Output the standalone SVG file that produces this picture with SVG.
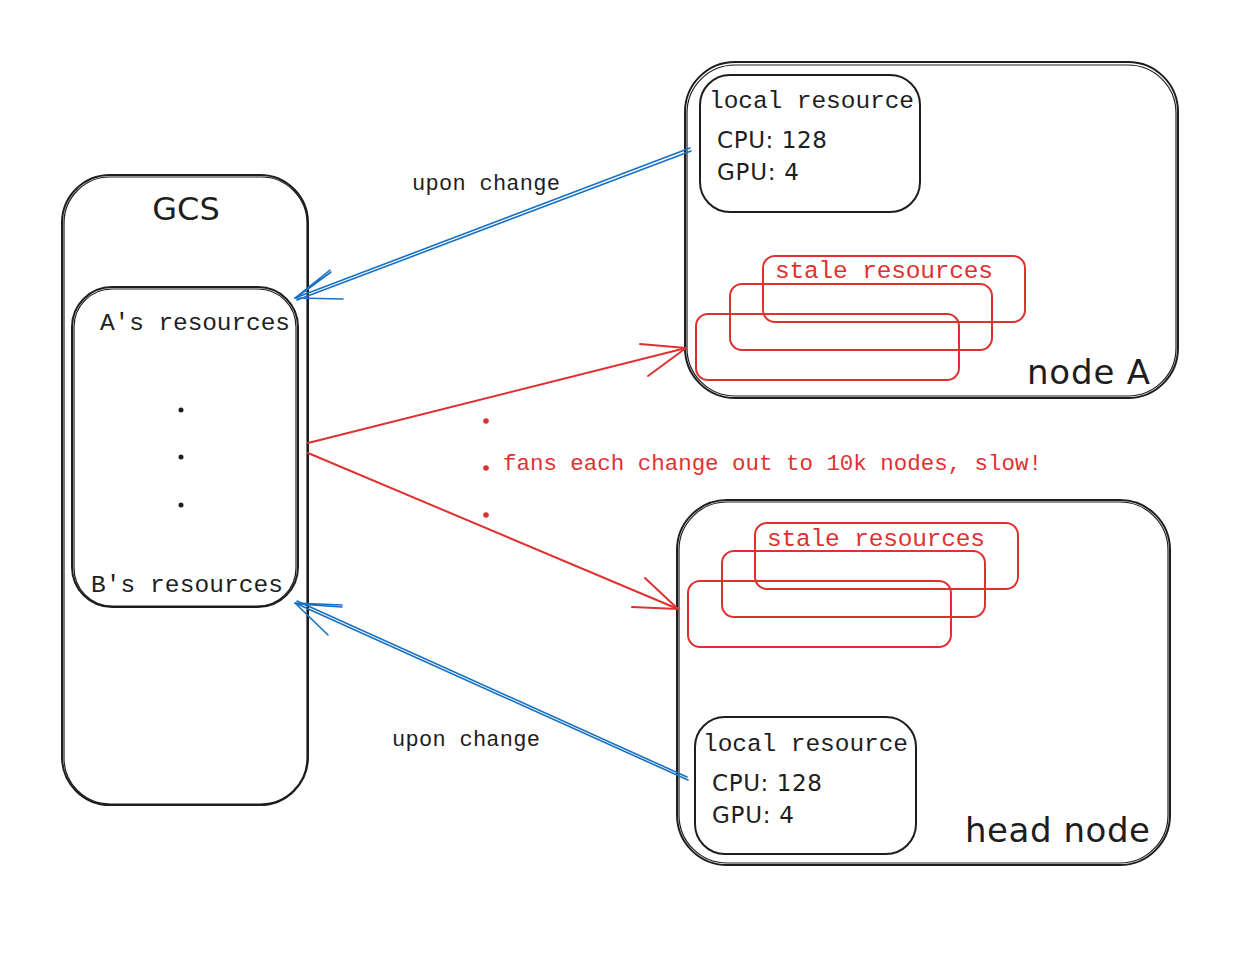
<svg xmlns="http://www.w3.org/2000/svg" width="1252" height="958" viewBox="0 0 1252 958">
<style>
.box{fill:none;stroke:#1e1e1e;stroke-width:2}
.box2{fill:none;stroke:#1e1e1e;stroke-width:1.2}
.stale{fill:none;stroke:#e03131;stroke-width:2}
.mono{font-family:"Liberation Mono","DejaVu Sans Mono",monospace;fill:#1e1e1e}
.hand{font-family:"DejaVu Sans","Liberation Sans",sans-serif;fill:#1e1e1e}
.red{fill:#e03131}
.blue{fill:none;stroke:#1971c2;stroke-width:1.6;stroke-linecap:round}
.redl{fill:none;stroke:#e03131;stroke-width:2;stroke-linecap:round}
</style>
<rect width="1252" height="958" fill="#ffffff"/>

<g id="gcs">
<rect class="box" x="62" y="175" width="246" height="630" rx="48"/>
<rect class="box2" x="64" y="177" width="243" height="627" rx="46"/>
<text class="hand" x="186" y="220" font-size="32" text-anchor="middle">GCS</text>
</g>

<g id="gcs-resources">
<rect class="box" x="72" y="287" width="226" height="320" rx="40"/>
<rect class="box2" x="74" y="289" width="222" height="317" rx="38"/>
<text class="mono" x="100" y="330" font-size="24.5" textLength="190">A's resources</text>
<circle cx="181" cy="410" r="2.5" fill="#1e1e1e"/>
<circle cx="181" cy="457" r="2.5" fill="#1e1e1e"/>
<circle cx="181" cy="505" r="2.5" fill="#1e1e1e"/>
<text class="mono" x="91" y="592" font-size="24.5" textLength="192">B's resources</text>
</g>

<g id="node-a">
<rect class="box" x="685" y="62" width="493" height="336" rx="50"/>
<rect class="box2" x="687" y="65" width="489" height="331" rx="48"/>
<text class="hand" x="1150" y="384" font-size="34" text-anchor="end" textLength="123">node A</text>
</g>

<g id="node-a-local">
<rect class="box" x="700" y="75" width="220" height="137" rx="30"/>
<text class="mono" x="709" y="108" font-size="24.5" textLength="205">local resource</text>
<text class="hand" x="717" y="148" font-size="23" textLength="110">CPU: 128</text>
<text class="hand" x="717" y="180" font-size="23" textLength="82">GPU: 4</text>
</g>

<g id="node-a-stale">
<rect class="stale" x="763" y="256" width="262" height="66" rx="12"/>
<rect class="stale" x="730" y="284" width="262" height="66" rx="12"/>
<rect class="stale" x="696" y="314" width="263" height="66" rx="12"/>
<text class="mono red" x="775" y="278" font-size="24.5" textLength="218">stale resources</text>
</g>

<g id="head-node">
<rect class="box" x="677" y="500" width="493" height="365" rx="50"/>
<rect class="box2" x="679" y="502" width="489" height="361" rx="48"/>
<text class="hand" x="1150" y="842" font-size="34" text-anchor="end" textLength="185">head node</text>
</g>

<g id="head-node-stale">
<rect class="stale" x="755" y="523" width="263" height="66" rx="12"/>
<rect class="stale" x="722" y="551" width="263" height="66" rx="12"/>
<rect class="stale" x="688" y="581" width="263" height="66" rx="12"/>
<text class="mono red" x="767" y="546" font-size="24.5" textLength="218">stale resources</text>
</g>

<g id="head-node-local">
<rect class="box" x="695" y="717" width="221" height="137" rx="30"/>
<text class="mono" x="703" y="751" font-size="24.5" textLength="205">local resource</text>
<text class="hand" x="712" y="791" font-size="23" textLength="110">CPU: 128</text>
<text class="hand" x="712" y="823" font-size="23" textLength="82">GPU: 4</text>
</g>

<g id="connectors">
<path class="blue" d="M690 148 L295 298 M691 151 L297 300"/>
<path class="blue" d="M295 298 L330 270 M295 298 L343 299 M297 297 L331 272"/>
<text class="mono" x="412" y="190" font-size="22" textLength="148">upon change</text>

<path class="blue" d="M688 780 L295 603 M687 777 L297 601"/>
<path class="blue" d="M295 603 L342 605 M295 603 L328 635 M297 604 L342 607"/>
<text class="mono" x="392" y="746" font-size="22" textLength="148">upon change</text>

<path class="redl" d="M308 443 L686 348"/>
<path class="redl" d="M686 348 L640 344 M686 348 L648 376"/>
<path class="redl" d="M308 453 L678 609"/>
<path class="redl" d="M678 609 L645 578 M678 609 L632 607"/>

<circle cx="486" cy="421" r="2.8" fill="#e03131"/>
<circle cx="486" cy="468" r="2.8" fill="#e03131"/>
<circle cx="486" cy="515" r="2.8" fill="#e03131"/>
<text class="mono red" x="503" y="470" font-size="22.5" textLength="539">fans each change out to 10k nodes, slow!</text>
</g>
</svg>
